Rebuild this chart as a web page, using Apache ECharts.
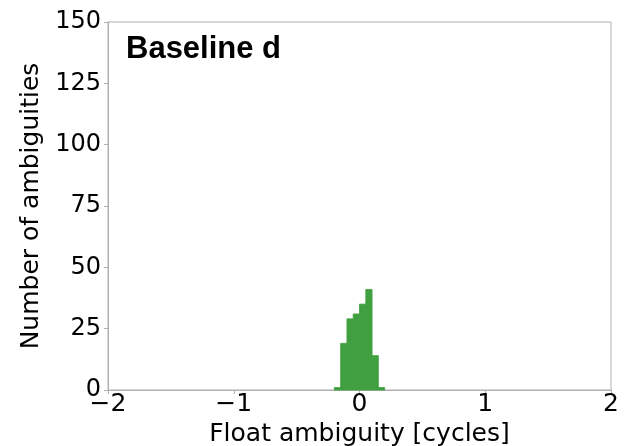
<!DOCTYPE html>
<html><head><meta charset="utf-8">
<script src="https://cdn.jsdelivr.net/npm/echarts@6/dist/echarts.min.js"></script>
<style>html,body{margin:0;padding:0;background:#fff}#c{width:629px;height:446px}</style>
</head><body><div id="c"></div>
<script>
const binStart = -0.2;
const binWidth = 0.05;
const counts = [1, 19, 29, 31, 35, 41, 14, 1];
const xTicks = [-2, -1, 0, 1, 2];
const yTicks = [0, 25, 50, 75, 100, 125, 150];
const title = 'Baseline d';

const data = counts.map((c, i) => [binStart + i * binWidth, binStart + (i + 1) * binWidth, c]);
const chart = echarts.init(document.getElementById('c'));
const font = 'DejaVu Sans';
chart.setOption({
  animation: false,
  grid: {left: 108, right: 18, top: 22, bottom: 56, show: true, borderColor: '#b0b0b0', borderWidth: 1,
    containLabel: false, outerBoundsMode: 'none'},
  title: {text: title, left: 121, top: 29, textStyle: {fontFamily: 'Liberation Sans', fontWeight: 'bold', fontSize: 31, color: '#000'}},
  xAxis: {
    type: 'value', min: xTicks[0], max: xTicks[xTicks.length - 1], interval: 1,
    name: 'Float ambiguity [cycles]', nameLocation: 'middle', nameGap: 27,
    nameTextStyle: {fontFamily: font, fontSize: 25, color: '#000'},
    axisLine: {show: true, onZero: false, lineStyle: {color: '#b0b0b0'}},
    axisTick: {show: true, length: 4, lineStyle: {color: '#b0b0b0'}},
    splitLine: {show: false},
    axisLabel: {fontFamily: font, fontSize: 25, color: '#000', margin: 2,
      formatter: v => String(v).replace('-', '\u2212')}
  },
  yAxis: {
    type: 'value', min: yTicks[0], max: yTicks[yTicks.length - 1], interval: 25,
    name: 'Number of ambiguities', nameLocation: 'middle', nameGap: 53, nameRotate: 90,
    nameTextStyle: {fontFamily: font, fontSize: 25, color: '#000'},
    axisLine: {show: true, onZero: false, lineStyle: {color: '#b0b0b0'}},
    axisTick: {show: true, length: 4, lineStyle: {color: '#b0b0b0'}},
    splitLine: {show: false},
    axisLabel: {fontFamily: font, fontSize: 24, color: '#000', margin: 7}
  },
  series: [{
    type: 'custom',
    data: data,
    encode: {x: [0, 1], y: 2},
    renderItem: function (params, api) {
      const p0 = api.coord([api.value(0), 0]);
      const p1 = api.coord([api.value(1), api.value(2)]);
      return {type: 'rect', shape: {x: p0[0], y: p1[1], width: p1[0] - p0[0], height: p0[1] - p1[1]},
        style: {fill: '#40a040', stroke: '#40a040', lineWidth: 0.8}};
    }
  }]
});
</script></body></html>
